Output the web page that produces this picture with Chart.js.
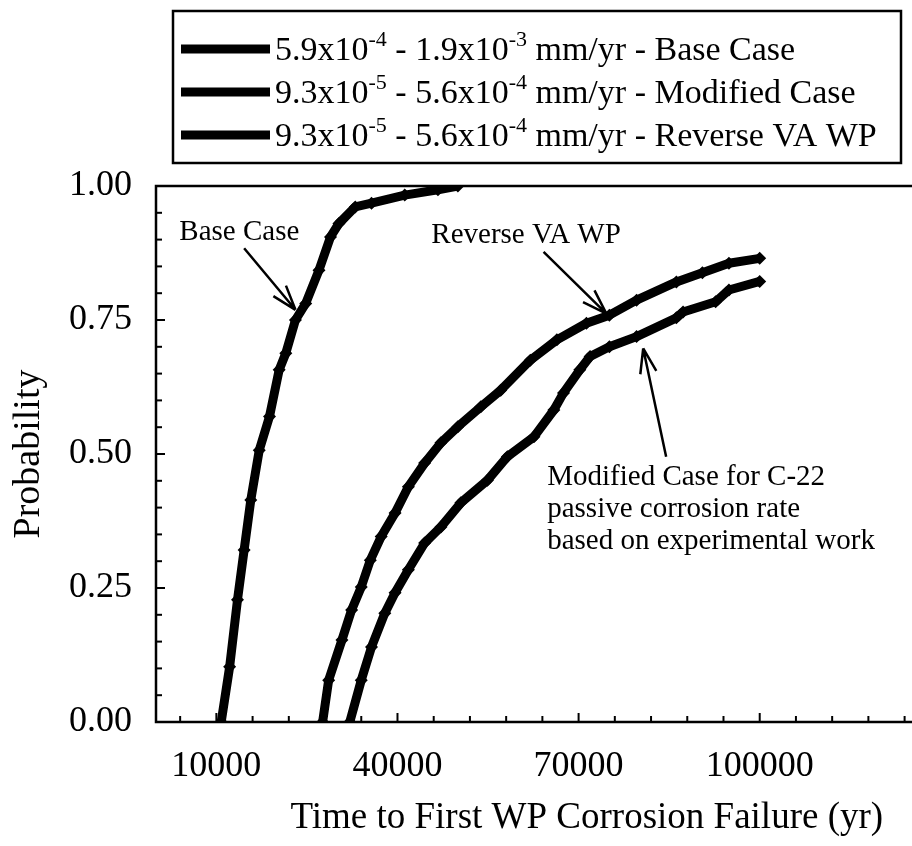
<!DOCTYPE html>
<html>
<head>
<meta charset="utf-8">
<script src="https://cdn.jsdelivr.net/npm/chart.js@4.4.1/dist/chart.umd.min.js"></script>
<style>
  html, body { margin: 0; padding: 0; background: #fff; overflow: hidden; }
</style>
</head>
<body>
<!-- plot frame runs on past the right edge of the page -->
<canvas id="failure" width="1024" height="846"></canvas>
<script>
// time to first waste package corrosion failure (yr) vs. cumulative probability
const baseTime = [10800, 12200, 13500, 14600, 15700, 17100, 18800, 20400, 21500, 23100, 24800, 27000, 28900, 30300, 33000, 35700, 41200, 46700, 50000];
const baseProb = [0, 0.103, 0.228, 0.321, 0.414, 0.507, 0.570, 0.657, 0.688, 0.750, 0.781, 0.843, 0.905, 0.930, 0.961, 0.968, 0.983, 0.993, 1.0];

const modTime = [32100, 34000, 35700, 37900, 39600, 41800, 44500, 47200, 50500, 54900, 58200, 62600, 65900, 67500, 70200, 71900, 75100, 79600, 86200, 87300, 92700, 94900, 100000];
const modProb = [0, 0.078, 0.140, 0.203, 0.241, 0.284, 0.334, 0.364, 0.409, 0.451, 0.495, 0.532, 0.582, 0.614, 0.657, 0.682, 0.700, 0.719, 0.754, 0.765, 0.784, 0.806, 0.822];

const revTime = [27600, 28600, 30800, 32400, 34000, 35500, 37300, 39600, 41800, 44500, 47200, 50000, 53800, 57100, 62000, 66400, 71300, 75100, 79600, 86200, 90500, 94900, 100000];
const revProb = [0, 0.078, 0.153, 0.209, 0.252, 0.302, 0.346, 0.390, 0.439, 0.483, 0.521, 0.551, 0.588, 0.619, 0.675, 0.713, 0.744, 0.759, 0.787, 0.821, 0.838, 0.856, 0.865];

const xTickLabels = [10000, 40000, 70000, 100000];
const xTickMarks = [4000, 10000, 16000, 22000, 28000, 34000, 40000, 46000, 52000, 58000, 64000, 70000, 76000, 82000, 88000, 94000, 100000, 106000, 112000, 118000, 124000, 130000, 136000, 142000];
const yTickLabels = [0, 0.25, 0.5, 0.75, 1.0];
const yTickMarks = [0.05, 0.1, 0.15, 0.2, 0.25, 0.3, 0.35, 0.4, 0.45, 0.5, 0.55, 0.6, 0.65, 0.7, 0.75, 0.8, 0.85, 0.9, 0.95];

const legendRows = [
  "5.9x10^{-4} - 1.9x10^{-3} mm/yr - Base Case",
  "9.3x10^{-5} - 5.6x10^{-4} mm/yr - Modified Case",
  "9.3x10^{-5} - 5.6x10^{-4} mm/yr - Reverse VA WP"
];

const SERIF = "\"Liberation Serif\", \"Times New Roman\", serif";

function toPoints(xs, ys) {
  return xs.map((x, i) => ({ x: x, y: ys[i] }));
}

function curve(label, xs, ys) {
  return {
    label: label,
    data: toPoints(xs, ys),
    borderColor: "#000",
    backgroundColor: "#000",
    borderWidth: 9,
    borderJoinStyle: "round",
    pointStyle: "rectRot",
    pointRadius: 6.5,
    pointBorderWidth: 0,
    tension: 0
  };
}

// frame and inward tick marks
const frame = {
  id: "frame",
  afterDatasetsDraw(chart) {
    const ctx = chart.ctx;
    const { left, right, top, bottom } = chart.chartArea;
    const xs = chart.scales.x, ys = chart.scales.y;
    ctx.save();
    ctx.strokeStyle = "#000";
    ctx.lineWidth = 2.5;
    ctx.beginPath();
    ctx.moveTo(right, top);
    ctx.lineTo(left, top);
    ctx.lineTo(left, bottom);
    ctx.lineTo(right, bottom);
    ctx.stroke();
    ctx.lineWidth = 2;
    xTickMarks.forEach(v => {
      const px = xs.getPixelForValue(v);
      const len = xTickLabels.includes(v) ? 9 : 6;
      ctx.beginPath();
      ctx.moveTo(px, bottom);
      ctx.lineTo(px, bottom - len);
      ctx.stroke();
    });
    yTickMarks.forEach(v => {
      const py = ys.getPixelForValue(v);
      const len = yTickLabels.includes(v) ? 9 : 6;
      ctx.beginPath();
      ctx.moveTo(left, py);
      ctx.lineTo(left + len, py);
      ctx.stroke();
    });
    ctx.restore();
  }
};

// boxed legend with superscript exponents
const rateLegend = {
  id: "rateLegend",
  afterDraw(chart) {
    const ctx = chart.ctx;
    const box = { x: 173, y: 11, w: 728, h: 152 };
    ctx.save();
    ctx.strokeStyle = "#000";
    ctx.lineWidth = 2.5;
    ctx.strokeRect(box.x, box.y, box.w, box.h);
    ctx.fillStyle = "#000";
    ctx.textBaseline = "alphabetic";
    legendRows.forEach((row, i) => {
      const cy = 49 + i * 43;
      ctx.lineWidth = 9;
      ctx.beginPath();
      ctx.moveTo(181, cy);
      ctx.lineTo(270, cy);
      ctx.stroke();
      let x = 275;
      const parts = row.split(/\^\{(.*?)\}/);
      parts.forEach((p, k) => {
        const sup = k % 2 === 1;
        ctx.font = (sup ? 22 : 34) + "px " + SERIF;
        ctx.fillText(p, x, sup ? cy - 3 : cy + 11);
        x += ctx.measureText(p).width;
      });
    });
    ctx.restore();
  }
};

// callout labels with arrows
const callouts = [
  { lines: ["Base Case"], x: 13800, y: 0.899, align: "center", from: [14600, 0.884], to: [23100, 0.769] },
  { lines: ["Reverse VA WP"], x: 45600, y: 0.894, align: "left", from: [64200, 0.877], to: [74600, 0.762] },
  { lines: ["Modified Case for C-22", "passive corrosion rate", "based on experimental work"], x: 64800, y: 0.442, align: "left", from: [84500, 0.495], to: [80700, 0.697] }
];

const calloutPlugin = {
  id: "callouts",
  afterDraw(chart) {
    const ctx = chart.ctx;
    const xs = chart.scales.x, ys = chart.scales.y;
    ctx.save();
    ctx.fillStyle = "#000";
    ctx.strokeStyle = "#000";
    ctx.font = "29px " + SERIF;
    ctx.textBaseline = "alphabetic";
    callouts.forEach(c => {
      ctx.textAlign = c.align;
      const tx = xs.getPixelForValue(c.x);
      const ty = ys.getPixelForValue(c.y);
      c.lines.forEach((t, i) => ctx.fillText(t, tx, ty + i * 32));
      const x1 = xs.getPixelForValue(c.from[0]), y1 = ys.getPixelForValue(c.from[1]);
      const x2 = xs.getPixelForValue(c.to[0]), y2 = ys.getPixelForValue(c.to[1]);
      ctx.lineWidth = 2.5;
      ctx.beginPath();
      ctx.moveTo(x1, y1);
      ctx.lineTo(x2, y2);
      const a = Math.atan2(y2 - y1, x2 - x1);
      [0.32, -0.32].forEach(d => {
        ctx.moveTo(x2, y2);
        ctx.lineTo(x2 - 26 * Math.cos(a + d), y2 - 26 * Math.sin(a + d));
      });
      ctx.stroke();
    });
    ctx.restore();
  }
};

const chart = new Chart(document.getElementById("failure"), {
  type: "line",
  data: {
    datasets: [
      curve("Base Case", baseTime, baseProb),
      curve("Modified Case", modTime, modProb),
      curve("Reverse VA WP", revTime, revProb)
    ]
  },
  options: {
    responsive: false,
    animation: false,
    devicePixelRatio: 1,
    layout: { padding: { top: 186, left: 0, right: 0, bottom: 0 } },
    plugins: {
      legend: { display: false },
      tooltip: { enabled: false }
    },
    scales: {
      x: {
        type: "linear",
        min: 0,
        max: 142700,
        afterBuildTicks: (s) => { s.ticks = xTickLabels.map(v => ({ value: v })); },
        afterFit: (s) => { s.height = 124; },
        grid: { display: false },
        border: { display: false },
        ticks: {
          color: "#000",
          font: { family: SERIF, size: 36 },
          padding: 15,
          maxRotation: 0,
          autoSkip: false,
          callback: (v) => String(v)
        },
        title: {
          display: true,
          text: "Time to First WP Corrosion Failure (yr)",
          color: "#000",
          font: { family: SERIF, size: 37 },
          padding: { top: 0, bottom: 6 }
        }
      },
      y: {
        min: 0,
        max: 1,
        afterBuildTicks: (s) => { s.ticks = yTickLabels.map(v => ({ value: v })); },
        afterFit: (s) => { s.width = 156; },
        grid: { display: false },
        border: { display: false },
        ticks: {
          color: "#000",
          font: { family: SERIF, size: 36 },
          padding: 16,
          callback: (v) => v.toFixed(2)
        },
        title: {
          display: true,
          text: "Probability",
          color: "#000",
          font: { family: SERIF, size: 38 },
          padding: { top: 6, bottom: 0 }
        }
      }
    }
  },
  plugins: [frame, rateLegend, calloutPlugin]
});
</script>
</body>
</html>
